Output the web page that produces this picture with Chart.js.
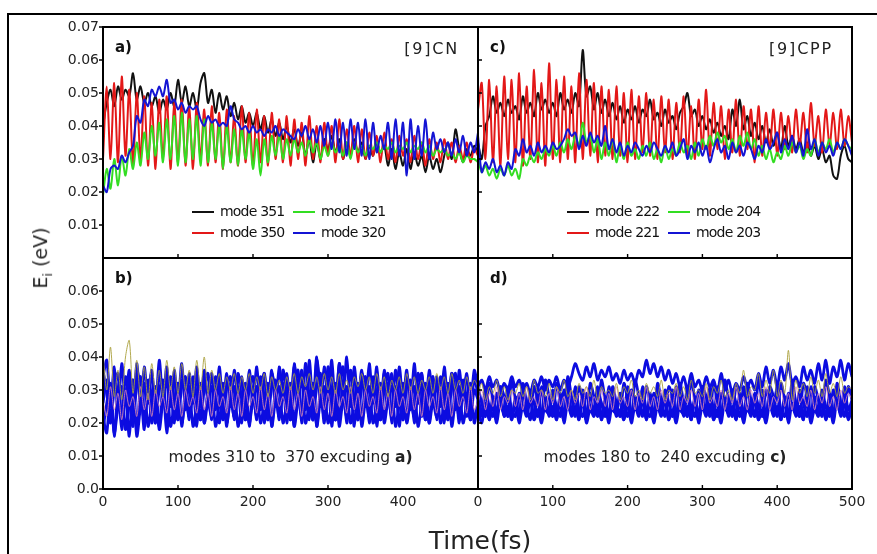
<!DOCTYPE html>
<html>
<head>
<meta charset="utf-8">
<script src="https://cdn.jsdelivr.net/npm/chart.js@4.4.0/dist/chart.umd.min.js"></script>
<style>
  html, body { margin: 0; padding: 0; background: #fff; overflow: hidden; }
  #fig { position: relative; width: 877px; height: 554px; overflow: hidden; font-family: "DejaVu Sans", sans-serif; }
  #frame { position: absolute; left: 7px; top: 13px; width: 1000px; height: 1000px; border-left: 2px solid #000; border-top: 2px solid #000; }
  canvas { position: absolute; }
  .ttl { position: absolute; color: #222; white-space: nowrap; transform: translate(-50%, -50%); }
</style>
</head>
<body>
<div id="fig">
  <div id="frame"></div>
  <canvas id="pa" width="431" height="246" style="left:50px;top:14px"></canvas>
  <canvas id="pb" width="431" height="290" style="left:50px;top:248px"></canvas>
  <canvas id="pc" width="400" height="246" style="left:470px;top:14px"></canvas>
  <canvas id="pd" width="417" height="290" style="left:460px;top:248px"></canvas>
  <div class="ttl" style="left:42px;top:258px;font-size:19px;transform:translate(-50%,-50%) rotate(-90deg)">E<sub style="font-size:13px">i</sub> (eV)</div>
  <div class="ttl" style="left:480px;top:540px;font-size:25px">Time(fs)</div>
</div>
<script>
// time grid (fs)
const time = [
  0,5,10,15,20,25,30,35,40,45,
  50,55,60,65,70,75,80,85,90,95,
  100,105,110,115,120,125,130,135,140,145,
  150,155,160,165,170,175,180,185,190,195,
  200,205,210,215,220,225,230,235,240,245,
  250,255,260,265,270,275,280,285,290,295,
  300,305,310,315,320,325,330,335,340,345,
  350,355,360,365,370,375,380,385,390,395,
  400,405,410,415,420,425,430,435,440,445,
  450,455,460,465,470,475,480,485,490,495,
  500];

// ---- panel a) [9]CN ----
const mode351 = [
  .040,.047,.051,.046,.052,.048,.051,.049,.056,.048,
  .052,.047,.050,.046,.049,.044,.048,.045,.050,.046,
  .054,.047,.052,.046,.050,.045,.053,.056,.047,.051,
  .044,.050,.045,.049,.043,.047,.042,.046,.041,.044,
  .040,.044,.039,.043,.038,.042,.037,.041,.036,.040,
  .035,.039,.034,.038,.031,.036,.029,.035,.030,.036,
  .033,.037,.032,.036,.030,.035,.031,.036,.032,.035,
  .030,.034,.031,.035,.032,.034,.028,.033,.027,.032,
  .028,.033,.027,.032,.028,.031,.026,.031,.027,.030,
  .026,.031,.035,.030,.039,.033,.029,.033,.031,.034,
  .032];
const mode350 = [
  .030,.052,.030,.053,.029,.055,.031,.051,.028,.050,
  .030,.049,.028,.047,.027,.048,.030,.049,.027,.047,
  .029,.048,.028,.046,.027,.047,.030,.045,.028,.046,
  .029,.044,.027,.045,.029,.043,.028,.046,.029,.044,
  .028,.045,.029,.043,.028,.044,.030,.042,.029,.043,
  .028,.042,.030,.041,.028,.043,.030,.040,.029,.041,
  .031,.040,.029,.042,.030,.039,.031,.040,.029,.039,
  .030,.038,.031,.037,.029,.038,.030,.036,.029,.037,
  .031,.036,.029,.037,.030,.035,.028,.036,.030,.035,
  .029,.036,.030,.035,.029,.034,.030,.035,.029,.033,
  .031];
const mode321 = [
  .019,.027,.021,.030,.022,.031,.025,.033,.027,.035,
  .028,.038,.030,.040,.031,.041,.029,.042,.030,.043,
  .028,.044,.029,.042,.030,.043,.028,.042,.029,.041,
  .030,.040,.027,.040,.029,.039,.028,.039,.030,.038,
  .027,.036,.025,.036,.029,.037,.031,.037,.030,.036,
  .031,.036,.032,.035,.031,.036,.032,.035,.030,.034,
  .031,.035,.032,.034,.031,.035,.030,.035,.032,.034,
  .031,.034,.033,.035,.032,.034,.033,.035,.032,.034,
  .033,.035,.032,.034,.033,.035,.032,.034,.031,.033,
  .032,.033,.031,.032,.030,.032,.029,.031,.030,.030,
  .029];
const mode320 = [
  .022,.020,.027,.028,.027,.031,.029,.032,.034,.043,
  .041,.048,.046,.051,.049,.052,.049,.054,.047,.048,
  .045,.047,.044,.046,.045,.046,.042,.040,.043,.041,
  .042,.040,.041,.040,.046,.042,.041,.039,.040,.038,
  .040,.038,.039,.037,.039,.038,.040,.037,.039,.038,
  .037,.036,.039,.037,.040,.036,.039,.035,.040,.034,
  .041,.033,.042,.032,.041,.031,.042,.033,.041,.031,
  .042,.030,.041,.032,.037,.033,.041,.030,.042,.031,
  .041,.025,.042,.030,.040,.031,.042,.030,.038,.033,
  .036,.032,.035,.031,.036,.032,.037,.031,.035,.032,
  .038];

// ---- panel c) [9]CPP ----
const mode222 = [
  .035,.030,.040,.043,.049,.044,.047,.043,.048,.044,
  .046,.042,.049,.044,.047,.043,.050,.045,.048,.044,
  .047,.043,.050,.045,.048,.044,.050,.046,.063,.049,
  .052,.045,.050,.044,.048,.043,.047,.042,.046,.041,
  .045,.042,.046,.041,.045,.043,.048,.042,.044,.040,
  .045,.041,.043,.039,.044,.046,.050,.043,.045,.040,
  .043,.039,.042,.038,.041,.037,.040,.036,.045,.040,
  .048,.039,.043,.037,.041,.036,.040,.035,.039,.034,
  .038,.033,.040,.034,.037,.033,.036,.032,.035,.031,
  .034,.030,.033,.029,.031,.025,.024,.031,.034,.030,
  .029];
const mode221 = [
  .045,.053,.030,.054,.029,.052,.028,.055,.030,.054,
  .029,.056,.028,.052,.030,.057,.029,.053,.028,.059,
  .030,.054,.029,.055,.030,.052,.029,.056,.030,.054,
  .031,.053,.029,.052,.031,.051,.030,.052,.031,.050,
  .029,.051,.030,.049,.032,.050,.031,.048,.030,.049,
  .032,.048,.030,.047,.032,.049,.031,.046,.030,.048,
  .033,.051,.031,.047,.033,.046,.030,.045,.032,.048,
  .031,.046,.033,.045,.029,.046,.031,.044,.033,.045,
  .031,.044,.033,.043,.032,.045,.034,.044,.032,.047,
  .034,.043,.032,.045,.034,.044,.033,.045,.034,.043,
  .035];
const mode204 = [
  .030,.026,.028,.025,.027,.024,.027,.025,.028,.025,
  .027,.024,.030,.028,.031,.029,.032,.030,.033,.031,
  .034,.031,.035,.032,.036,.033,.037,.034,.041,.035,
  .037,.032,.036,.030,.035,.031,.036,.029,.034,.030,
  .035,.031,.033,.030,.034,.031,.035,.030,.033,.029,
  .034,.030,.033,.031,.035,.032,.034,.030,.035,.031,
  .036,.033,.037,.034,.038,.035,.037,.033,.036,.032,
  .037,.034,.038,.033,.036,.031,.034,.030,.033,.029,
  .032,.030,.034,.031,.035,.032,.034,.030,.033,.031,
  .036,.032,.035,.033,.036,.032,.035,.033,.036,.034,
  .033];
const mode203 = [
  .037,.026,.029,.027,.030,.026,.028,.025,.029,.027,
  .033,.031,.036,.032,.034,.031,.035,.032,.034,.032,
  .035,.033,.034,.036,.039,.037,.038,.033,.037,.034,
  .038,.035,.037,.034,.040,.033,.036,.032,.035,.031,
  .034,.032,.035,.033,.031,.034,.032,.035,.033,.031,
  .034,.032,.035,.031,.033,.036,.030,.034,.032,.035,
  .031,.034,.029,.033,.036,.032,.034,.030,.035,.032,
  .034,.031,.035,.033,.030,.034,.032,.036,.033,.035,
  .038,.032,.036,.033,.037,.032,.035,.031,.039,.033,
  .036,.031,.035,.032,.034,.031,.035,.033,.036,.034,
  .031];

// ---- panel b) other CN modes (representative traces) ----
const cnBlue1 = [
  .034,.039,.025,.037,.024,.038,.026,.036,.023,.038,
  .025,.037,.026,.036,.024,.039,.027,.037,.025,.036,
  .026,.038,.024,.035,.026,.037,.025,.036,.027,.035,
  .024,.037,.026,.035,.025,.036,.027,.034,.025,.036,
  .026,.037,.024,.035,.026,.036,.025,.037,.027,.035,
  .025,.038,.026,.036,.024,.039,.026,.040,.025,.037,
  .027,.039,.024,.038,.026,.040,.025,.037,.027,.036,
  .025,.038,.026,.037,.024,.036,.026,.035,.025,.037,
  .027,.036,.024,.038,.026,.035,.025,.036,.027,.034,
  .025,.037,.026,.035,.024,.036,.027,.035,.025,.036,
  .030];
const cnBlue2 = [
  .022,.017,.031,.016,.030,.018,.029,.016,.031,.019,
  .030,.018,.032,.020,.029,.019,.031,.017,.030,.020,
  .032,.019,.030,.021,.031,.019,.032,.020,.030,.021,
  .031,.020,.029,.019,.032,.021,.030,.020,.031,.019,
  .030,.021,.032,.020,.031,.019,.030,.021,.032,.020,
  .031,.019,.033,.020,.031,.021,.032,.019,.030,.020,
  .033,.019,.031,.021,.032,.020,.030,.019,.031,.021,
  .032,.020,.031,.019,.030,.021,.032,.020,.031,.019,
  .030,.021,.032,.020,.031,.022,.030,.020,.032,.021,
  .031,.020,.032,.021,.030,.020,.031,.022,.030,.021,
  .026];
const cnBlue3 = [
  .036,.029,.020,.035,.028,.021,.034,.027,.019,.036,
  .030,.021,.033,.028,.020,.035,.029,.022,.034,.027,
  .021,.033,.029,.022,.034,.028,.021,.033,.027,.022,
  .034,.029,.021,.033,.028,.022,.035,.027,.021,.033,
  .029,.022,.034,.028,.021,.035,.029,.022,.036,.028,
  .021,.037,.029,.022,.038,.028,.021,.039,.030,.022,
  .037,.028,.021,.038,.029,.022,.036,.027,.021,.035,
  .029,.022,.034,.028,.021,.035,.029,.022,.036,.027,
  .021,.034,.028,.022,.035,.029,.021,.033,.027,.022,
  .034,.028,.021,.035,.029,.022,.033,.027,.021,.034,
  .028];
const cnBlue4 = [
  .018,.026,.032,.017,.025,.031,.018,.027,.033,.016,
  .025,.032,.019,.026,.031,.018,.027,.033,.019,.026,
  .032,.020,.027,.031,.019,.026,.032,.020,.027,.031,
  .019,.026,.032,.020,.027,.031,.019,.026,.032,.020,
  .027,.031,.020,.026,.032,.019,.027,.031,.020,.026,
  .032,.019,.027,.033,.020,.026,.032,.019,.027,.031,
  .020,.026,.032,.019,.027,.031,.020,.026,.032,.019,
  .027,.031,.020,.026,.032,.020,.027,.031,.019,.026,
  .032,.020,.027,.031,.019,.026,.032,.020,.027,.031,
  .020,.026,.032,.019,.027,.031,.020,.026,.032,.020,
  .027];
const cnBlue5 = [
  .026,.033,.021,.030,.035,.022,.028,.034,.020,.031,
  .034,.022,.029,.035,.021,.030,.033,.022,.028,.034,
  .021,.031,.034,.022,.029,.033,.021,.030,.035,.022,
  .028,.033,.021,.031,.034,.022,.029,.033,.021,.030,
  .034,.022,.028,.035,.021,.031,.033,.022,.029,.034,
  .021,.030,.036,.022,.028,.037,.021,.031,.035,.022,
  .029,.036,.021,.030,.037,.022,.028,.035,.021,.031,
  .034,.022,.029,.033,.021,.030,.035,.022,.028,.034,
  .021,.031,.033,.022,.029,.035,.021,.030,.034,.022,
  .028,.033,.021,.031,.035,.022,.029,.034,.021,.030,
  .027];
const cnOlive = [
  .041,.030,.043,.028,.036,.027,.040,.045,.029,.039,
  .028,.037,.027,.038,.029,.036,.028,.039,.030,.037,
  .029,.038,.030,.036,.028,.039,.030,.040,.029,.036,
  .030,.035,.029,.034,.030,.035,.029,.034,.030,.035,
  .029,.034,.030,.035,.028,.034,.030,.033,.029,.034,
  .030,.035,.029,.034,.031,.035,.030,.034,.029,.035,
  .030,.034,.029,.035,.030,.033,.029,.034,.031,.035,
  .030,.034,.029,.035,.030,.034,.028,.033,.030,.034,
  .029,.035,.030,.034,.029,.033,.030,.034,.029,.035,
  .030,.034,.029,.035,.030,.033,.029,.034,.030,.033,
  .031];
const cnPink = [
  .027,.022,.031,.024,.029,.021,.030,.025,.028,.022,
  .031,.024,.029,.022,.030,.025,.028,.023,.031,.024,
  .029,.022,.030,.025,.028,.023,.031,.024,.029,.022,
  .030,.025,.028,.023,.031,.024,.029,.022,.030,.025,
  .028,.023,.031,.024,.029,.022,.030,.025,.028,.023,
  .031,.024,.029,.022,.030,.025,.028,.023,.031,.024,
  .029,.022,.030,.025,.028,.023,.031,.024,.029,.022,
  .030,.025,.028,.023,.031,.024,.029,.022,.030,.025,
  .028,.023,.031,.024,.029,.022,.030,.025,.028,.023,
  .031,.024,.029,.022,.030,.025,.028,.023,.031,.024,
  .027];

// ---- panel d) other CPP modes (representative traces) ----
const cppBlue1 = [
  .031,.033,.030,.034,.031,.033,.029,.032,.030,.034,
  .031,.033,.030,.032,.029,.033,.031,.034,.030,.033,
  .031,.034,.030,.033,.031,.034,.038,.035,.033,.037,
  .034,.038,.033,.036,.034,.037,.033,.035,.032,.036,
  .033,.035,.032,.036,.034,.039,.035,.038,.034,.037,
  .033,.036,.032,.035,.031,.034,.030,.035,.031,.033,
  .030,.034,.031,.033,.029,.035,.030,.033,.029,.032,
  .030,.034,.031,.033,.030,.035,.031,.037,.032,.036,
  .031,.037,.033,.038,.032,.034,.031,.037,.033,.036,
  .032,.038,.033,.039,.032,.037,.034,.039,.033,.038,
  .034];
const cppBlue2 = [
  .029,.022,.030,.021,.028,.023,.030,.022,.029,.021,
  .028,.022,.030,.023,.029,.021,.031,.022,.028,.023,
  .030,.021,.029,.022,.031,.023,.028,.021,.030,.022,
  .029,.023,.031,.021,.028,.022,.030,.023,.029,.021,
  .031,.022,.028,.023,.030,.021,.029,.022,.031,.023,
  .028,.021,.030,.022,.029,.023,.031,.021,.028,.022,
  .030,.023,.029,.021,.031,.022,.028,.023,.030,.021,
  .029,.022,.031,.023,.028,.021,.030,.022,.029,.023,
  .031,.021,.028,.022,.030,.023,.029,.021,.031,.022,
  .028,.023,.030,.021,.029,.022,.031,.023,.028,.022,
  .026];
const cppBlue3 = [
  .031,.026,.022,.032,.027,.021,.031,.028,.022,.033,
  .027,.022,.032,.026,.021,.031,.027,.022,.033,.028,
  .022,.032,.026,.021,.034,.028,.022,.031,.027,.021,
  .032,.028,.022,.033,.027,.021,.031,.026,.022,.032,
  .027,.021,.033,.028,.022,.031,.026,.021,.032,.027,
  .022,.031,.028,.021,.032,.026,.022,.033,.027,.021,
  .031,.028,.022,.032,.026,.021,.033,.027,.022,.031,
  .028,.021,.032,.027,.022,.033,.026,.021,.031,.028,
  .022,.032,.027,.021,.033,.026,.022,.032,.028,.021,
  .031,.027,.022,.033,.028,.021,.032,.026,.022,.031,
  .027];
const cppBlue4 = [
  .024,.020,.026,.021,.025,.020,.027,.022,.025,.021,
  .026,.020,.025,.022,.027,.021,.024,.020,.026,.022,
  .025,.021,.027,.020,.026,.022,.025,.021,.027,.020,
  .024,.022,.026,.021,.025,.020,.027,.022,.024,.021,
  .026,.020,.025,.022,.027,.021,.026,.020,.025,.022,
  .027,.021,.024,.020,.026,.022,.025,.021,.027,.020,
  .025,.022,.026,.021,.024,.020,.027,.022,.025,.021,
  .026,.020,.025,.022,.027,.021,.024,.020,.026,.022,
  .025,.021,.027,.020,.026,.022,.025,.021,.027,.020,
  .024,.022,.026,.021,.025,.020,.027,.022,.026,.021,
  .025];
const cppBlue5 = [
  .027,.023,.030,.025,.022,.029,.026,.023,.031,.024,
  .022,.029,.025,.023,.030,.026,.022,.031,.024,.023,
  .029,.025,.022,.030,.026,.023,.031,.024,.022,.029,
  .025,.023,.030,.026,.022,.031,.024,.023,.029,.025,
  .022,.030,.026,.023,.031,.024,.022,.029,.025,.023,
  .030,.026,.022,.031,.024,.023,.029,.025,.022,.030,
  .026,.023,.031,.024,.022,.029,.025,.023,.030,.026,
  .022,.031,.024,.023,.029,.025,.022,.030,.026,.023,
  .031,.024,.022,.029,.025,.023,.030,.026,.022,.031,
  .024,.023,.029,.025,.022,.030,.026,.023,.031,.024,
  .027];
const cppOlive = [
  .028,.032,.027,.031,.029,.033,.028,.031,.027,.030,
  .029,.032,.028,.031,.027,.033,.029,.030,.028,.032,
  .027,.031,.029,.033,.028,.030,.027,.032,.029,.031,
  .028,.033,.027,.031,.029,.030,.028,.032,.027,.031,
  .029,.033,.028,.030,.027,.032,.029,.031,.028,.033,
  .027,.030,.029,.032,.028,.031,.027,.033,.029,.030,
  .028,.032,.027,.031,.029,.033,.028,.030,.027,.032,
  .029,.036,.028,.031,.030,.035,.028,.033,.029,.036,
  .028,.033,.029,.042,.027,.033,.029,.032,.028,.034,
  .029,.033,.028,.035,.029,.032,.028,.034,.029,.031,
  .030];
const cppPink = [
  .026,.030,.024,.029,.025,.031,.024,.028,.026,.030,
  .025,.029,.024,.031,.026,.028,.025,.030,.024,.029,
  .026,.031,.025,.028,.024,.030,.026,.029,.025,.031,
  .024,.028,.026,.030,.025,.029,.024,.031,.026,.028,
  .025,.030,.024,.029,.026,.031,.025,.028,.024,.030,
  .026,.029,.025,.031,.024,.028,.026,.030,.025,.029,
  .024,.031,.026,.028,.025,.030,.024,.029,.026,.031,
  .025,.028,.024,.030,.026,.029,.025,.031,.024,.028,
  .026,.030,.025,.029,.024,.031,.026,.028,.025,.030,
  .024,.029,.026,.031,.025,.028,.024,.030,.026,.029,
  .027];

const BLACK = '#111111', RED = '#e31818', GREEN = '#33dd22', BLUE = '#1414d4';
const BAND = '#0c0ce0', OLIVE = 'rgba(170,160,60,0.9)', PINK = 'rgba(225,140,170,0.85)';

// per panel decoration (labels, legend, notes)
const decor = {
  pa: { tag: 'a)', title: '[9]CN', yOut: true, legend: ['mode 351', 'mode 321', 'mode 350', 'mode 320'] },
  pb: { tag: 'b)', yOut: true, note: 'modes 310 to  370 excuding ', noteBold: 'a)' },
  pc: { tag: 'c)', title: '[9]CPP', yOut: false, legend: ['mode 222', 'mode 204', 'mode 221', 'mode 203'] },
  pd: { tag: 'd)', yOut: false, note: 'modes 180 to  240 excuding ', noteBold: 'c)' }
};

const panelDecor = {
  id: 'panelDecor',
  afterDatasetsDraw(chart) {
    const d = decor[chart.canvas.id];
    const {ctx, chartArea: {left, right, top, bottom}, scales: {x, y}} = chart;
    ctx.save();
    ctx.strokeStyle = '#000';
    ctx.lineWidth = 1.4;
    ctx.beginPath();
    // inward ticks on the time axis
    x.ticks.forEach((t, i) => {
      if (i === 0 || i === x.ticks.length - 1) return;
      const px = x.getPixelForValue(t.value);
      ctx.moveTo(px, bottom);
      ctx.lineTo(px, bottom - 4);
    });
    y.ticks.forEach((t, i) => {
      const py = y.getPixelForValue(t.value);
      if (d.yOut) {
        ctx.moveTo(left, py);
        ctx.lineTo(left - 4, py);
      } else if (i > 0 && i < y.ticks.length - 1) {
        ctx.moveTo(left, py);
        ctx.lineTo(left + 4, py);
      }
    });
    ctx.stroke();
    ctx.lineWidth = 2;
    ctx.strokeRect(left, top, right - left, bottom - top);

    // panel tag
    ctx.fillStyle = '#111';
    ctx.textBaseline = 'middle';
    ctx.font = 'bold 15px "DejaVu Sans"';
    ctx.fillText(d.tag, left + 12, top + 21);

    if (d.title) {
      ctx.font = '16px "DejaVu Sans"';
      ctx.letterSpacing = '1.8px';
      ctx.textAlign = 'right';
      ctx.fillStyle = '#222';
      ctx.fillText(d.title, right - 19, top + 23);
      ctx.letterSpacing = '0px';
      ctx.textAlign = 'left';
    }

    if (d.legend) {
      ctx.font = '14px "DejaVu Sans"';
      ctx.letterSpacing = '-0.8px';
      d.legend.forEach((name, i) => {
        const ds = chart.data.datasets.find(s => s.label === name);
        const col = i % 2, row = Math.floor(i / 2);
        const x0 = left + 89 + col * 101;
        const yy = top + 185 + row * 21;
        ctx.strokeStyle = ds.borderColor;
        ctx.lineWidth = 2;
        ctx.beginPath();
        ctx.moveTo(x0, yy);
        ctx.lineTo(x0 + 22, yy);
        ctx.stroke();
        ctx.fillStyle = '#111';
        ctx.fillText(name, x0 + 28, yy);
      });
      ctx.letterSpacing = '0px';
    }

    if (d.note) {
      const reg = '15.5px "DejaVu Sans"', bold = 'bold 15.5px "DejaVu Sans"';
      ctx.font = reg;
      const w1 = ctx.measureText(d.note).width;
      ctx.font = bold;
      const w2 = ctx.measureText(d.noteBold).width;
      const x0 = (left + right) / 2 - (w1 + w2) / 2;
      ctx.fillStyle = '#222';
      ctx.font = reg;
      ctx.fillText(d.note, x0, bottom - 31);
      ctx.font = bold;
      ctx.fillText(d.noteBold, x0 + w1, bottom - 31);
    }
    ctx.restore();
  }
};

function series(label, values, color, width) {
  return {
    label: label,
    data: values.map((v, i) => ({x: time[i], y: v})),
    borderColor: color,
    borderWidth: width,
    pointRadius: 0,
    tension: 0.3,
    fill: false
  };
}

function makePanel(id, datasets, o) {
  const tickFont = {family: 'DejaVu Sans', size: 14};
  return new Chart(document.getElementById(id), {
    type: 'line',
    data: {datasets: datasets},
    options: {
      responsive: false,
      animation: false,
      events: [],
      layout: {padding: o.padding},
      plugins: {legend: {display: false}, tooltip: {enabled: false}},
      scales: {
        x: {
          type: 'linear', min: 0, max: 500,
          display: o.showX,
          grid: {display: false, drawTicks: false},
          border: {display: false},
          ticks: {
            stepSize: 50, autoSkip: false, maxRotation: 0, padding: 5,
            color: '#222', font: tickFont,
            callback: v => (v % 100 === 0 && v <= o.xLast) ? String(v) : null
          },
          afterFit: s => { s.height = o.showX ? 49 : 0; s.paddingLeft = 0; s.paddingRight = 0; }
        },
        y: {
          min: 0, max: 0.07,
          display: o.showY,
          grid: {display: false, drawTicks: false},
          border: {display: false},
          ticks: {
            stepSize: 0.01, padding: 4, color: '#222', font: tickFont,
            callback: v => {
              const k = Math.round(v * 100);
              if (o.lower) return k === 7 ? null : (k === 0 ? '0.0' : (k / 100).toFixed(2));
              return k === 0 ? null : (k / 100).toFixed(2);
            }
          },
          afterFit: s => { s.width = o.showY ? 53 : 0; s.paddingTop = 0; s.paddingBottom = 0; }
        }
      }
    },
    plugins: [panelDecor]
  });
}

document.addEventListener('DOMContentLoaded', function() {
  // first dataset is drawn on top
  makePanel('pa', [
    series('mode 320', mode320, BLUE, 2),
    series('mode 321', mode321, GREEN, 2),
    series('mode 350', mode350, RED, 2),
    series('mode 351', mode351, BLACK, 2)
  ], {padding: {left: 0, right: 3, top: 13, bottom: 2}, showX: false, showY: true, xLast: 400});

  makePanel('pb', [
    series('olive', cnOlive, OLIVE, 1),
    series('pink', cnPink, PINK, 1),
    series('b1', cnBlue1, BAND, 2.8),
    series('b2', cnBlue2, BAND, 2.8),
    series('b3', cnBlue3, BAND, 2.8),
    series('b4', cnBlue4, BAND, 2.8),
    series('b5', cnBlue5, BAND, 2.8)
  ], {padding: {left: 0, right: 3, top: 10, bottom: 0}, showX: true, showY: true, xLast: 400, lower: true});

  makePanel('pc', [
    series('mode 203', mode203, BLUE, 2),
    series('mode 204', mode204, GREEN, 2),
    series('mode 221', mode221, RED, 2),
    series('mode 222', mode222, BLACK, 2)
  ], {padding: {left: 8, right: 18, top: 13, bottom: 2}, showX: false, showY: false, xLast: 500});

  makePanel('pd', [
    series('olive', cppOlive, OLIVE, 1),
    series('pink', cppPink, PINK, 1),
    series('b1', cppBlue1, BAND, 2.8),
    series('b2', cppBlue2, BAND, 2.8),
    series('b3', cppBlue3, BAND, 2.8),
    series('b4', cppBlue4, BAND, 2.8),
    series('b5', cppBlue5, BAND, 2.8)
  ], {padding: {left: 18, right: 25, top: 10, bottom: 0}, showX: true, showY: false, xLast: 500, lower: true});
});
</script>
</body>
</html>
